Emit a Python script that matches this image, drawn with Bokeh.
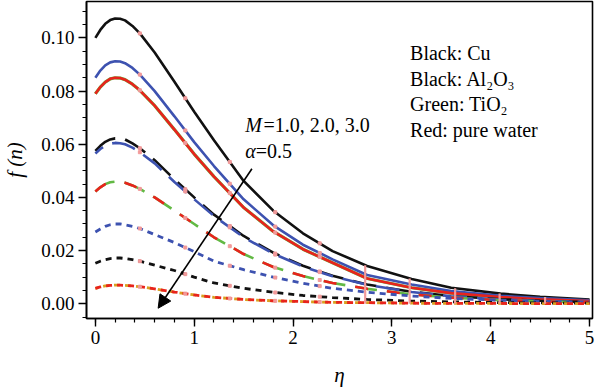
import numpy as np
from bokeh.plotting import figure
from bokeh.models import (Range1d, SingleIntervalTicker, NumeralTickFormatter,
                          Label, Arrow, NormalHead)
from bokeh.embed import file_html
from bokeh.resources import INLINE

# ---------------- data ----------------
eta = [0, 0.05, 0.1, 0.15, 0.2, 0.25, 0.3, 0.375, 0.45, 0.6, 0.8, 1.0, 1.2,
       1.5, 1.8, 2.1, 2.4, 2.75, 3.2, 3.6, 4.1, 4.5, 5.0]

# M = 1.0 (solid)
black_m1 = [0.1000, 0.1030, 0.1053, 0.1067, 0.1073, 0.1072, 0.1066, 0.1045,
            0.1017, 0.0945, 0.0835, 0.0722, 0.0615, 0.0462, 0.0350, 0.0265,
            0.0198, 0.0142, 0.0093, 0.0060, 0.0038, 0.0026, 0.0016]
blue_m1 = [0.0850, 0.0877, 0.0897, 0.0908, 0.0912, 0.0911, 0.0905, 0.0887,
           0.0862, 0.0800, 0.0705, 0.0608, 0.0518, 0.0393, 0.0295, 0.0222,
           0.0167, 0.0108, 0.0072, 0.0048, 0.0030, 0.0021, 0.0013]
red_m1 = [0.0790, 0.0815, 0.0834, 0.0846, 0.0850, 0.0849, 0.0843, 0.0826,
          0.0803, 0.0745, 0.0655, 0.0563, 0.0478, 0.0362, 0.0272, 0.0205,
          0.0154, 0.0095, 0.0060, 0.0040, 0.0025, 0.0017, 0.0010]

# M = 2.0 (long dash)
black_m2 = [0.0575, 0.0594, 0.0609, 0.0618, 0.0622, 0.0621, 0.0618, 0.0603,
            0.0585, 0.0540, 0.0468, 0.0400, 0.0335, 0.0255, 0.0192, 0.0143,
            0.0105, 0.0072, 0.0045, 0.0029, 0.0017, 0.0011, 0.0006]
blue_m2 = [0.0565, 0.0582, 0.0595, 0.0602, 0.0605, 0.0604, 0.0600, 0.0587,
           0.0570, 0.0528, 0.0458, 0.0393, 0.0330, 0.0250, 0.0188, 0.0140,
           0.0103, 0.0071, 0.0044, 0.0028, 0.0016, 0.0010, 0.0006]
red_m2 = [0.0422, 0.0438, 0.0450, 0.0457, 0.0459, 0.0458, 0.0455, 0.0445,
          0.0432, 0.0400, 0.0350, 0.0300, 0.0250, 0.0187, 0.0138, 0.0104,
          0.0078, 0.0056, 0.0035, 0.0023, 0.0013, 0.0009, 0.0005]

# M = 3.0 (short dash)
blue_m3 = [0.0270, 0.0281, 0.0291, 0.0297, 0.0300, 0.0300, 0.0297, 0.0291,
           0.0283, 0.0260, 0.0230, 0.0196, 0.0160, 0.0128, 0.0100, 0.0077,
           0.0058, 0.0043, 0.0029, 0.0020, 0.0013, 0.0009, 0.0006]
black_m3 = [0.0152, 0.0160, 0.0166, 0.0170, 0.0172, 0.0172, 0.0170, 0.0166,
            0.0160, 0.0145, 0.0125, 0.0100, 0.0078, 0.0058, 0.0043, 0.0031,
            0.0023, 0.0016, 0.0010, 0.0007, 0.0004, 0.0003, 0.0002]
red_m3 = [0.0058, 0.0063, 0.0067, 0.0069, 0.0070, 0.0070, 0.0069, 0.0067,
          0.0064, 0.0056, 0.0044, 0.0033, 0.0024, 0.0016, 0.0011, 0.0008,
          0.0005, 0.0004, 0.0002, 0.0001, 0.0001, 0.0000, 0.0000]

# sample marks visible along the curves
mark_eta = [0.45, 0.91, 1.36, 1.82, 2.27, 2.73, 3.18, 3.64, 4.09, 4.55]

legend_lines = ["Black: Cu", "Black: Al\u2082O\u2083", "Green: TiO\u2082",
                "Red: pure water"]

# ---------------- styling ----------------
FONT = "'Liberation Serif', 'Times New Roman', serif"
BLACK = "#111111"
BLUE = "#3d52b0"
RED = "#e8231c"
GREEN = "#62b944"
PINK = "#f29a9a"

p = figure(width=600, height=389, output_backend="svg", toolbar_location=None,
           x_range=Range1d(-0.0898, 5.03), y_range=Range1d(-0.00556, 0.1137),
           min_border_left=79, min_border_right=8, min_border_top=1,
           min_border_bottom=66, title=None)
p.grid.visible = False
p.background_fill_color = "white"
p.border_fill_color = "white"
p.outline_line_color = "black"
p.outline_line_width = 1.6

for ax in (p.xaxis[0], p.yaxis[0]):
    ax.axis_line_width = 1.6
    ax.major_tick_line_width = 1.4
    ax.minor_tick_line_width = 1.2
    ax.major_tick_out = 8
    ax.major_tick_in = 0
    ax.minor_tick_out = 4
    ax.minor_tick_in = 0
    ax.major_label_text_font = FONT
    ax.major_label_text_font_size = "19px"
    ax.major_label_text_color = "black"
    ax.major_label_standoff = 4
    ax.axis_label_text_font = FONT
    ax.axis_label_text_font_style = "italic"
    ax.axis_label_text_color = "black"

p.xaxis.ticker = SingleIntervalTicker(interval=1, num_minor_ticks=5)
p.yaxis.ticker = SingleIntervalTicker(interval=0.02, num_minor_ticks=4)
p.yaxis.formatter = NumeralTickFormatter(format="0.00")
p.xaxis.axis_label = "\u03b7"
p.xaxis.axis_label_text_font_size = "21px"
p.xaxis.axis_label_standoff = 16
p.yaxis.axis_label = "f (n)"
p.yaxis.axis_label_text_font_size = "21px"
p.yaxis.axis_label_standoff = 11

# ---------------- curves ----------------
# M = 1 solid
p.line(eta, red_m1, line_color=GREEN, line_width=3.2)
p.line(eta, black_m1, line_color=BLACK, line_width=2.6)
p.line(eta, blue_m1, line_color=BLUE, line_width=2.6)
p.line(eta, red_m1, line_color=RED, line_width=2.6)

# M = 2 long dash
p.line(eta, black_m2, line_color=BLACK, line_width=2.6, line_dash="24 10")
p.line(eta, blue_m2, line_color=BLUE, line_width=2.6, line_dash="24 10",
       line_dash_offset=14)
p.line(eta, red_m2, line_color=GREEN, line_width=2.6, line_dash="22 10")
p.line(eta, red_m2, line_color=RED, line_width=2.6, line_dash="13 19")

# M = 3 short dash
p.line(eta, blue_m3, line_color=BLUE, line_width=2.8, line_dash="6 5")
p.line(eta, black_m3, line_color=BLACK, line_width=2.8, line_dash="6 5")
p.line(eta, red_m3, line_color="#d9a020", line_width=2.8, line_dash="6 5",
       line_dash_offset=3)
p.line(eta, red_m3, line_color=RED, line_width=2.8, line_dash="6 5")

# pink sample marks
for curve in (black_m1, blue_m1, red_m1, black_m2, blue_m2, red_m2,
              blue_m3, black_m3, red_m3):
    yy = np.interp(mark_eta[:5], eta, curve)
    p.scatter(mark_eta[:5], yy, marker="square", size=3, color=PINK)
top = np.interp(mark_eta[5:], eta, black_m1)
p.segment(x0=mark_eta[5:], y0=[0.0] * 5, x1=mark_eta[5:], y1=top,
          line_color=PINK, line_width=2.2)

# ---------------- annotations ----------------
p.add_layout(Arrow(end=NormalHead(size=13, fill_color="black",
                                  line_color="black", line_width=1),
                   x_start=1.584, y_start=0.0508, x_end=0.635, y_end=-0.0017,
                   line_color="black", line_width=1.6))

def lab(x, y, text, size="20px", style="normal"):
    p.add_layout(Label(x=x, y=y, text=text, text_font=FONT,
                       text_font_size=size, text_font_style=style,
                       text_align="left", text_baseline="alphabetic",
                       text_color="black"))

# M = 1.0, 2.0, 3.0  /  alpha = 0.5
lab(1.517, 0.0672, "M", style="italic")
lab(1.700, 0.0672, "=1.0, 2.0, 3.0")
lab(1.517, 0.0576, "\u03b1", style="italic")
lab(1.622, 0.0576, "=0.5")

legend_y = [0.0944, 0.0844, 0.0752, 0.0655]
for t, yv in zip(legend_lines, legend_y):
    lab(3.184, yv, t)

open("out.html", "w").write(file_html(p, INLINE))
